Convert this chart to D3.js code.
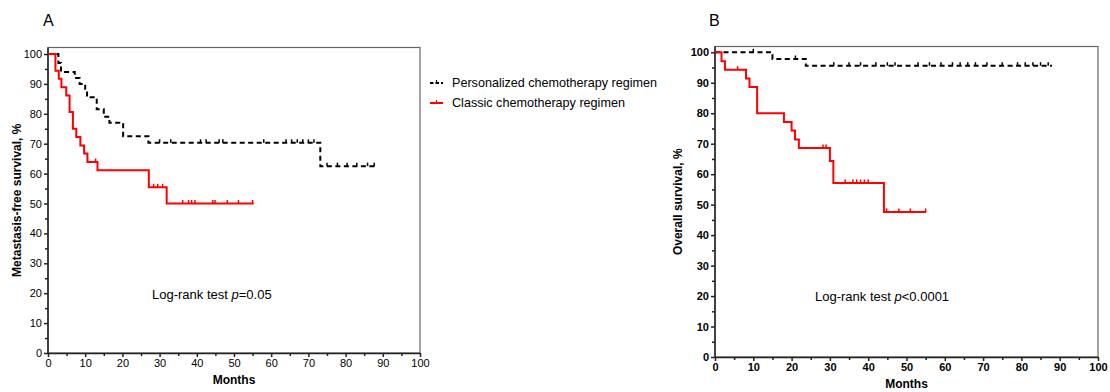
<!DOCTYPE html>
<meta charset="utf-8">
<script src="https://d3js.org/d3.v7.min.js"></script>
<style>
body { margin: 0; background: #fff; }
text { font-family: "Liberation Sans", Arial, sans-serif; fill: #000; }
.frame { fill: none; stroke: #666; stroke-width: 1.2px; }
.axis path, .axis line { stroke: #222; stroke-width: 1.5px; }
.km { fill: none; stroke-width: 2px; }
</style>
<body>
<script>
// ---- data ----
var monthTicks = d3.range(0, 101, 10);
var pctTicks = d3.range(0, 101, 10);

// Panel A: metastasis-free survival
var aPersonalT = [0, 2.8, 3.5, 7.2, 8.5, 10, 10.5, 13.1, 15, 16.5, 20.2, 27, 73.2, 88];
var aPersonalS = [100, 97, 94, 92, 90, 88, 85.5, 81.5, 79, 77, 72.5, 70.3, 62.5, 62.5];
var aPersonalCens = [30, 33, 41, 42.5, 46, 47, 58, 64, 65.5, 67, 68.5, 70, 71.5, 75, 77.8, 80.4, 83, 85.9, 87.7];
var aClassicT = [0, 2, 2.9, 3.6, 4.9, 5.8, 6.7, 7.6, 8.7, 9.7, 10.6, 13.3, 27.1, 31.9, 55.3];
var aClassicS = [100, 94.4, 91.7, 88.9, 86.1, 80.6, 75, 72.2, 69.4, 66.7, 63.9, 61.1, 55.4, 50, 50];
var aClassicCens = [12.8, 28.4, 29.5, 30.8, 36.2, 37.8, 38.6, 39.5, 44.3, 44.9, 48.2, 51.2, 55];

// Panel B: overall survival
var bPersonalT = [0, 15, 23.7, 88];
var bPersonalS = [100, 97.8, 95.6, 95.6];
var bPersonalCens = [10, 21, 31, 35, 38, 42, 45, 47, 53, 56, 59, 62, 64, 66, 68, 71, 75, 79, 81, 83, 85, 87];
var bClassicT = [0, 1.7, 2.6, 8.1, 9, 11, 18, 20, 20.9, 21.9, 30, 30.9, 44.1, 55.1];
var bClassicS = [100, 97.1, 94.3, 91.4, 88.6, 80, 77.1, 74.3, 71.4, 68.6, 64.3, 57.1, 47.6, 47.6];
var bClassicCens = [5.9, 28.2, 29, 34, 36, 37, 38, 39, 40, 44.8, 48, 51, 55];

var legendLabels = ['Personalized chemotherapy regimen', 'Classic chemotherapy regimen'];

var svg = d3.select('body').append('svg')
    .attr('width', 1110)
    .attr('height', 392);

// value at time t on a step curve
function stepAt(ts, ss, t) {
    var v = ss[0];
    for (var i = 0; i < ts.length; i++) {
        if (ts[i] <= t) v = ss[i];
    }
    return v;
}

function drawPanel(opt) {
    var x = d3.scaleLinear().domain([0, 100]).range([opt.x0, opt.x1]);
    var y = d3.scaleLinear().domain([0, 100]).range([opt.y0, opt.y100]);
    var g = svg.append('g');

    g.append('rect').attr('class', 'frame')
        .attr('x', opt.x0).attr('y', opt.top)
        .attr('width', opt.x1 - opt.x0).attr('height', opt.y0 - opt.top);

    // minor ticks
    var yMinor = g.append('g').attr('class', 'axis')
        .attr('transform', 'translate(' + opt.x0 + ',0)')
        .call(d3.axisLeft(y).tickValues(d3.range(5, 100, 10)).tickSize(3).tickFormat(''));
    yMinor.select('.domain').remove();
    var xMinor = g.append('g').attr('class', 'axis')
        .attr('transform', 'translate(0,' + opt.y0 + ')')
        .call(d3.axisBottom(x).tickValues(d3.range(5, 100, 10)).tickSize(3).tickFormat(''));
    xMinor.select('.domain').remove();

    var yAxis = g.append('g').attr('class', 'axis')
        .attr('transform', 'translate(' + opt.x0 + ',0)')
        .call(d3.axisLeft(y).tickValues(pctTicks).tickSize(4).tickSizeOuter(0).tickPadding(2));
    yAxis.select('.domain').attr('d', 'M0,' + opt.top + 'V' + opt.y0);
    var xAxis = g.append('g').attr('class', 'axis')
        .attr('transform', 'translate(0,' + opt.y0 + ')')
        .call(d3.axisBottom(x).tickValues(monthTicks).tickSize(4).tickSizeOuter(0).tickPadding(2));

    g.selectAll('.axis text')
        .style('font-size', '11px')
        .style('font-weight', opt.bold ? 'bold' : 'normal')
        .style('font-family', '"Liberation Sans", Arial, sans-serif');

    var line = d3.line()
        .x(function(d) { return x(d[0]); })
        .y(function(d) { return y(d[1]); })
        .curve(d3.curveStepAfter);

    opt.series.forEach(function(s) {
        var pts = s.t.map(function(t, i) { return [t, s.s[i]]; });
        g.append('path').attr('class', 'km')
            .attr('d', line(pts))
            .attr('stroke', s.color)
            .attr('stroke-dasharray', s.dash || null);
        g.selectAll(null).data(s.cens).enter().append('line')
            .attr('x1', function(d) { return x(d); })
            .attr('x2', function(d) { return x(d); })
            .attr('y1', function(d) { return y(stepAt(s.t, s.s, d)); })
            .attr('y2', function(d) { return y(stepAt(s.t, s.s, d)) - 3.5; })
            .attr('stroke', s.color)
            .attr('stroke-width', 1.5);
    });

    svg.append('text').text(opt.letter)
        .attr('x', opt.letterX).attr('y', 26)
        .style('font-size', '16px');

    svg.append('text').text('Months')
        .attr('text-anchor', 'middle')
        .attr('x', (opt.x0 + opt.x1) / 2).attr('y', opt.y0 + 31)
        .style('font-size', '12px').style('font-weight', 'bold');

    svg.append('text').text(opt.ylabel)
        .attr('text-anchor', 'middle')
        .attr('transform', 'translate(' + opt.ylabelX + ',' + ((opt.top + opt.y0) / 2) + ') rotate(-90)')
        .style('font-size', '12px').style('font-weight', 'bold');

    var lr = svg.append('text')
        .attr('x', opt.lrX).attr('y', opt.lrY)
        .style('font-size', '13px');
    lr.append('tspan').text('Log-rank test ');
    lr.append('tspan').text('p').style('font-style', 'italic');
    lr.append('tspan').text(opt.pText);
}

drawPanel({
    x0: 48, x1: 420, y0: 353, y100: 54, top: 47.5, bold: false,
    letter: 'A', letterX: 43, ylabel: 'Metastasis-free survival, %', ylabelX: 21,
    lrX: 152, lrY: 299, pText: '=0.05',
    series: [
        {t: aPersonalT, s: aPersonalS, cens: aPersonalCens, color: '#000', dash: '5,3.5'},
        {t: aClassicT, s: aClassicS, cens: aClassicCens, color: '#ff0000'}
    ]
});

drawPanel({
    x0: 715, x1: 1098, y0: 357, y100: 52.3, top: 46.5, bold: true,
    letter: 'B', letterX: 709, ylabel: 'Overall survival, %', ylabelX: 682,
    lrX: 815, lrY: 301, pText: '<0.0001',
    series: [
        {t: bPersonalT, s: bPersonalS, cens: bPersonalCens, color: '#000', dash: '5,3.5'},
        {t: bClassicT, s: bClassicS, cens: bClassicCens, color: '#ff0000'}
    ]
});

// legend
var legend = svg.append('g');
var legendColors = ['#000', '#ff0000'];
legendLabels.forEach(function(lab, i) {
    var ly = 83 + i * 20;
    legend.append('line')
        .attr('x1', 430).attr('x2', 443).attr('y1', ly).attr('y2', ly)
        .attr('stroke', legendColors[i]).attr('stroke-width', 2)
        .attr('stroke-dasharray', i === 0 ? '3.5,2' : null);
    legend.append('line')
        .attr('x1', 436.5).attr('x2', 436.5).attr('y1', ly).attr('y2', ly - 3)
        .attr('stroke', legendColors[i]).attr('stroke-width', 1.2);
    legend.append('text').text(lab)
        .attr('x', 452).attr('y', ly + 4)
        .style('font-size', '12.6px');
});
</script>
</body>
